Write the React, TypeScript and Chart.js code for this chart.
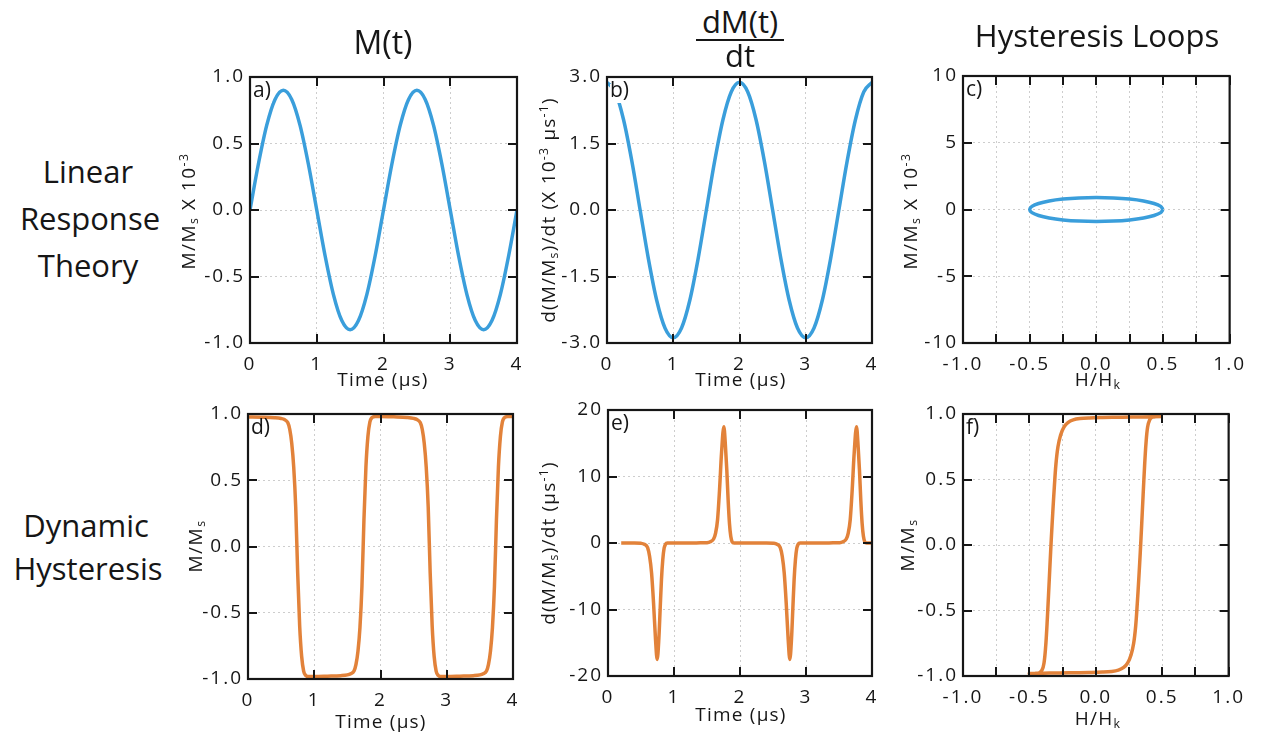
import React, { useEffect, useRef } from 'react';
import { Chart, registerables } from 'chart.js';

Chart.register(...registerables);

const FONT = '"Open Sans", "Noto Sans", sans-serif';
const TXT = '#161616';
const BLUE = '#3a9edb';
const ORANGE = '#e2823a';

// ---------- tick values & labels ----------
const TIME_TICKS = [0, 1, 2, 3, 4];
const TIME_LABELS = ['0', '1', '2', '3', '4'];
const UNIT_TICKS = [-1, -0.5, 0, 0.5, 1];
const UNIT_LABELS = ['-1.0', '-0.5', '0.0', '0.5', '1.0'];
const RATE_B_TICKS = [-3, -1.5, 0, 1.5, 3];
const RATE_B_LABELS = ['-3.0', '-1.5', '0.0', '1.5', '3.0'];
const MAG_C_TICKS = [-10, -5, 0, 5, 10];
const MAG_C_LABELS = ['-10', '-5', '0', '5', '10'];
const RATE_E_TICKS = [-20, -10, 0, 10, 20];
const RATE_E_LABELS = ['-20', '-10', '0', '10', '20'];
const FIELD_TICKS = [-1, -0.75, -0.5, -0.25, 0, 0.25, 0.5, 0.75, 1];
const FIELD_LABELS = ['-1.0', '', '-0.5', '', '0.0', '', '0.5', '', '1.0'];

// ---------- a) linear response M(t) ----------
const timeA = [0, 0.125, 0.25, 0.375, 0.5, 0.625, 0.75, 0.875, 1, 1.125, 1.25, 1.375, 1.5, 1.625, 1.75, 1.875, 2,
  2.125, 2.25, 2.375, 2.5, 2.625, 2.75, 2.875, 3, 3.125, 3.25, 3.375, 3.5, 3.625, 3.75, 3.875, 4];
const magA = [0, 0.344, 0.636, 0.831, 0.9, 0.831, 0.636, 0.344, 0, -0.344, -0.636, -0.831, -0.9, -0.831, -0.636, -0.344, 0,
  0.344, 0.636, 0.831, 0.9, 0.831, 0.636, 0.344, 0, -0.344, -0.636, -0.831, -0.9, -0.831, -0.636, -0.344, 0];

// ---------- b) linear response dM/dt ----------
const timeB = [0, 0.125, 0.25, 0.375, 0.5, 0.625, 0.75, 0.875, 1, 1.125, 1.25, 1.375, 1.5, 1.625, 1.75, 1.875, 2,
  2.125, 2.25, 2.375, 2.5, 2.625, 2.75, 2.875, 3, 3.125, 3.25, 3.375, 3.5, 3.625, 3.75, 3.875, 4];
const rateB = [2.88, 2.661, 2.036, 1.102, 0, -1.102, -2.036, -2.661, -2.88, -2.661, -2.036, -1.102, 0, 1.102, 2.036, 2.661, 2.88,
  2.661, 2.036, 1.102, 0, -1.102, -2.036, -2.661, -2.88, -2.661, -2.036, -1.102, 0, 1.102, 2.036, 2.661, 2.88];

// ---------- c) linear response loop ----------
const fieldC = [0.5, 0.483, 0.433, 0.354, 0.25, 0.129, 0, -0.129, -0.25, -0.354, -0.433, -0.483, -0.5,
  -0.483, -0.433, -0.354, -0.25, -0.129, 0, 0.129, 0.25, 0.354, 0.433, 0.483, 0.5];
const magC = [0, 0.233, 0.45, 0.636, 0.779, 0.869, 0.9, 0.869, 0.779, 0.636, 0.45, 0.233, 0,
  -0.233, -0.45, -0.636, -0.779, -0.869, -0.9, -0.869, -0.779, -0.636, -0.45, -0.233, 0];

// ---------- d) dynamic hysteresis M(t) ----------
const timeD = [0, 0.2, 0.4, 0.5, 0.55, 0.6, 0.63, 0.66, 0.69, 0.72, 0.75, 0.78, 0.81, 0.84, 0.87, 0.92,
  1.0, 1.2, 1.4, 1.5, 1.55, 1.6, 1.63, 1.66, 1.69, 1.72, 1.75, 1.78, 1.81, 1.84, 1.87, 1.92,
  2.0, 2.2, 2.4, 2.5, 2.55, 2.6, 2.63, 2.66, 2.69, 2.72, 2.75, 2.78, 2.81, 2.84, 2.87, 2.92,
  3.0, 3.2, 3.4, 3.5, 3.55, 3.6, 3.63, 3.66, 3.69, 3.72, 3.75, 3.78, 3.81, 3.84, 3.87, 3.92, 4.0];
const magD = [0.978, 0.976, 0.972, 0.966, 0.958, 0.935, 0.885, 0.78, 0.6, 0.3, -0.2, -0.6, -0.83, -0.94, -0.972, -0.982,
  -0.982, -0.979, -0.975, -0.969, -0.96, -0.94, -0.89, -0.79, -0.61, -0.3, 0.2, 0.6, 0.83, 0.94, 0.972, 0.982,
  0.982, 0.979, 0.974, 0.967, 0.958, 0.935, 0.885, 0.78, 0.6, 0.3, -0.2, -0.6, -0.83, -0.94, -0.972, -0.982,
  -0.982, -0.979, -0.975, -0.969, -0.96, -0.94, -0.89, -0.79, -0.61, -0.3, 0.2, 0.6, 0.83, 0.94, 0.972, 0.982, 0.982];

// ---------- e) dynamic hysteresis dM/dt ----------
const timeE = [0.2, 0.4, 0.5, 0.55, 0.6, 0.63, 0.66, 0.69, 0.72, 0.745, 0.77, 0.79, 0.81, 0.83, 0.85, 0.87, 0.9,
  1.2, 1.4, 1.5, 1.55, 1.6, 1.63, 1.66, 1.69, 1.72, 1.755, 1.78, 1.8, 1.82, 1.84, 1.86, 1.88, 1.91,
  2.2, 2.4, 2.51, 2.56, 2.61, 2.64, 2.67, 2.7, 2.73, 2.755, 2.78, 2.8, 2.82, 2.84, 2.86, 2.88, 2.91,
  3.2, 3.41, 3.51, 3.56, 3.61, 3.64, 3.67, 3.7, 3.73, 3.765, 3.79, 3.81, 3.83, 3.85, 3.87, 3.89, 3.92, 4.0];
const rateE = [0, 0, -0.05, -0.2, -0.7, -2, -4.5, -9, -14.5, -17.5, -14.5, -10, -5.5, -2.5, -0.8, -0.2, 0,
  0, 0.02, 0.05, 0.2, 0.6, 1.5, 3.5, 8, 13.5, 17.5, 14.5, 11, 6.5, 3, 1, 0.2, 0,
  0, 0, -0.05, -0.2, -0.7, -2, -4.5, -9, -14.5, -17.5, -14.5, -10, -5.5, -2.5, -0.8, -0.2, 0,
  0, 0.02, 0.05, 0.2, 0.6, 1.5, 3.5, 8, 13.5, 17.5, 14.5, 11, 6.5, 3, 1, 0.2, 0, 0];

// ---------- f) dynamic hysteresis loop ----------
const fieldF = [0.5, 0.35, 0.2, 0.05, -0.05, -0.12, -0.17, -0.21, -0.24, -0.265, -0.285, -0.3, -0.312, -0.324, -0.335,
  -0.345, -0.356, -0.367, -0.378, -0.39, -0.405, -0.425, -0.46, -0.5,
  -0.35, -0.2, -0.05, 0.05, 0.12, 0.17, 0.21, 0.24, 0.265, 0.285, 0.3, 0.312, 0.324, 0.335,
  0.345, 0.356, 0.367, 0.378, 0.39, 0.405, 0.425, 0.46, 0.5];
const magF = [0.98, 0.978, 0.976, 0.973, 0.97, 0.965, 0.955, 0.935, 0.9, 0.84, 0.75, 0.62, 0.45, 0.25, 0.05,
  -0.15, -0.38, -0.6, -0.78, -0.9, -0.955, -0.975, -0.98, -0.98,
  -0.978, -0.976, -0.973, -0.97, -0.965, -0.955, -0.935, -0.9, -0.84, -0.75, -0.62, -0.45, -0.25, -0.05,
  0.15, 0.38, 0.6, 0.78, 0.9, 0.955, 0.975, 0.98, 0.98];

// ---------- layout ----------
const PAD_L = 70;
const PAD_T = 20;
const PAD_R = 25;
const PAD_B = 40;
const TICK_SPACING = '2px';

type PanelDef = {
  label: string;
  rect: [number, number, number, number];
  xTicks: number[];
  xLabels: string[];
  yTicks: number[];
  yLabels: string[];
  xs: number[];
  ys: number[];
  color: string;
  mono: boolean;
};

const PANELS: PanelDef[] = [
  { label: 'a)', rect: [250, 77, 517, 343], xTicks: TIME_TICKS, xLabels: TIME_LABELS, yTicks: UNIT_TICKS, yLabels: UNIT_LABELS, xs: timeA, ys: magA, color: BLUE, mono: true },
  { label: 'b)', rect: [607, 77, 872, 343], xTicks: TIME_TICKS, xLabels: TIME_LABELS, yTicks: RATE_B_TICKS, yLabels: RATE_B_LABELS, xs: timeB, ys: rateB, color: BLUE, mono: true },
  { label: 'c)', rect: [963, 76, 1231, 343], xTicks: FIELD_TICKS, xLabels: FIELD_LABELS, yTicks: MAG_C_TICKS, yLabels: MAG_C_LABELS, xs: fieldC, ys: magC, color: BLUE, mono: false },
  { label: 'd)', rect: [248, 414, 513, 679], xTicks: TIME_TICKS, xLabels: TIME_LABELS, yTicks: UNIT_TICKS, yLabels: UNIT_LABELS, xs: timeD, ys: magD, color: ORANGE, mono: true },
  { label: 'e)', rect: [608, 410, 872, 676], xTicks: TIME_TICKS, xLabels: TIME_LABELS, yTicks: RATE_E_TICKS, yLabels: RATE_E_LABELS, xs: timeE, ys: rateE, color: ORANGE, mono: true },
  { label: 'f)', rect: [963, 414, 1230, 676], xTicks: FIELD_TICKS, xLabels: FIELD_LABELS, yTicks: UNIT_TICKS, yLabels: UNIT_LABELS, xs: fieldF, ys: magF, color: ORANGE, mono: false },
];

const spacingPlugin = {
  id: 'tickSpacing',
  beforeUpdate(chart: any) {
    chart.ctx.letterSpacing = TICK_SPACING;
  },
  beforeDraw(chart: any) {
    chart.ctx.letterSpacing = TICK_SPACING;
  },
};

const framePlugin = {
  id: 'panelFrame',
  afterDatasetsDraw(chart: any, _args: any, opts: any) {
    const { ctx, chartArea } = chart;
    const { left, top, right, bottom } = chartArea;
    const xs = chart.scales.x;
    const ys = chart.scales.y;
    ctx.save();
    ctx.letterSpacing = '0px';
    // panel letter on white box
    ctx.font = `21px ${FONT}`;
    const w = ctx.measureText(opts.label).width;
    ctx.fillStyle = '#ffffff';
    ctx.fillRect(left + 3, top + 7, w + 1, 19);
    ctx.fillStyle = TXT;
    ctx.textBaseline = 'top';
    ctx.textAlign = 'left';
    ctx.fillText(opts.label, left + 3, top + 4);
    // inward tick marks
    ctx.strokeStyle = TXT;
    ctx.lineWidth = 2;
    ctx.beginPath();
    xs.ticks.forEach((t: any) => {
      const px = Math.round(xs.getPixelForValue(t.value));
      ctx.moveTo(px, bottom);
      ctx.lineTo(px, bottom - 9);
      ctx.moveTo(px, top);
      ctx.lineTo(px, top + 9);
    });
    ys.ticks.forEach((t: any) => {
      const py = Math.round(ys.getPixelForValue(t.value));
      ctx.moveTo(left, py);
      ctx.lineTo(left + 9, py);
      ctx.moveTo(right, py);
      ctx.lineTo(right - 9, py);
    });
    ctx.stroke();
    ctx.lineWidth = 2.2;
    ctx.strokeRect(left, top, right - left, bottom - top);
    ctx.restore();
  },
};

function axis(ticks: number[], labels: string[], isX: boolean) {
  return {
    type: 'linear',
    min: ticks[0],
    max: ticks[ticks.length - 1],
    afterBuildTicks: (s: any) => {
      s.ticks = ticks.map((v) => ({ value: v }));
    },
    afterFit: (s: any) => {
      if (isX) s.height = PAD_B;
      else s.width = PAD_L;
    },
    ticks: {
      callback: (_v: any, i: number) => labels[i],
      font: { family: FONT, size: 19 },
      color: TXT,
      padding: isX ? 10 : 5,
      maxRotation: 0,
      minRotation: 0,
      autoSkip: false,
    },
    grid: { color: '#cdcdcd', lineWidth: 1, drawTicks: false },
    border: { display: false, dash: [2, 3] },
  };
}

function Panel({ p }: { p: PanelDef }) {
  const ref = useRef<HTMLCanvasElement | null>(null);
  const [L, T, R, B] = p.rect;
  const w = R - L + PAD_L + PAD_R;
  const h = B - T + PAD_T + PAD_B;
  useEffect(() => {
    const chart = new Chart(ref.current as HTMLCanvasElement, {
      type: 'scatter',
      data: {
        datasets: [
          {
            data: p.xs.map((x, i) => ({ x, y: p.ys[i] })),
            showLine: true,
            borderColor: p.color,
            borderWidth: 3.5,
            pointRadius: 0,
            fill: false,
            tension: p.mono ? 0 : 0.35,
            cubicInterpolationMode: p.mono ? 'monotone' : 'default',
          } as any,
        ],
      },
      options: {
        animation: false,
        responsive: false,
        devicePixelRatio: 1,
        layout: { padding: { left: 0, top: PAD_T, right: PAD_R, bottom: 0 } },
        plugins: {
          legend: { display: false },
          tooltip: { enabled: false },
          panelFrame: { label: p.label },
        } as any,
        scales: {
          x: axis(p.xTicks, p.xLabels, true) as any,
          y: axis(p.yTicks, p.yLabels, false) as any,
        },
      },
      plugins: [spacingPlugin as any, framePlugin as any],
    });
    return () => chart.destroy();
  }, [p]);
  return (
    <canvas
      ref={ref}
      width={w}
      height={h}
      style={{ position: 'absolute', left: L - PAD_L, top: T - PAD_T, width: w, height: h }}
    />
  );
}

const sub = { fontSize: '0.65em', lineHeight: 0, verticalAlign: '-0.25em' } as React.CSSProperties;
const sup = { fontSize: '0.65em', lineHeight: 0, verticalAlign: '0.55em' } as React.CSSProperties;

function Txt({ x, y, size, children, rotate, spacing }: { x: number; y: number; size: number; children: React.ReactNode; rotate?: boolean; spacing?: number }) {
  return (
    <div
      style={{
        position: 'absolute',
        left: x,
        top: y,
        transform: rotate ? 'translate(-50%, -50%) rotate(-90deg)' : 'translateX(-50%)',
        font: `${size}px ${FONT}`,
        lineHeight: `${size}px`,
        letterSpacing: spacing ? `${spacing}px` : undefined,
        whiteSpace: 'nowrap',
        color: TXT,
      }}
    >
      {children}
    </div>
  );
}

const MMs = (
  <>
    M/M<span style={sub}>s</span>
  </>
);

export default function App() {
  return (
    <div style={{ position: 'absolute', left: 0, top: 0, width: 1261, height: 740, background: '#fff', overflow: 'hidden' }}>
      {PANELS.map((p) => (
        <Panel key={p.label} p={p} />
      ))}

      {/* column titles */}
      <Txt x={383} y={26} size={32}>M(t)</Txt>
      <Txt x={740} y={5.5} size={31}>dM(t)</Txt>
      <div style={{ position: 'absolute', left: 696, top: 39, width: 88, height: 2, background: TXT }} />
      <Txt x={740} y={39.5} size={31}>dt</Txt>
      <Txt x={1097} y={19.5} size={31}>Hysteresis Loops</Txt>

      {/* row titles */}
      <Txt x={88} y={155.5} size={31}>Linear</Txt>
      <Txt x={90} y={202.5} size={31}>Response</Txt>
      <Txt x={88} y={249.5} size={31}>Theory</Txt>
      <Txt x={86} y={509.5} size={31}>Dynamic</Txt>
      <Txt x={88} y={552.5} size={31}>Hysteresis</Txt>

      {/* x-axis titles */}
      <Txt x={383} y={369.5} size={19} spacing={1.2}>Time (µs)</Txt>
      <Txt x={741} y={369.5} size={19} spacing={1.2}>Time (µs)</Txt>
      <Txt x={1098} y={369.5} size={19} spacing={1.2}>H/H<span style={sub}>k</span></Txt>
      <Txt x={381} y={711.5} size={19} spacing={1.2}>Time (µs)</Txt>
      <Txt x={741} y={704.5} size={19} spacing={1.2}>Time (µs)</Txt>
      <Txt x={1098} y={708.5} size={19} spacing={1.2}>H/H<span style={sub}>k</span></Txt>

      {/* y-axis titles */}
      <Txt x={188} y={211} size={19} spacing={1.5} rotate>
        {MMs} X 10<span style={sup}>-3</span>
      </Txt>
      <Txt x={548} y={210} size={19} spacing={1.2} rotate>
        d({MMs})/dt (X 10<span style={sup}>-3</span> µs<span style={sup}>-1</span>)
      </Txt>
      <Txt x={910} y={211} size={19} spacing={1.5} rotate>
        {MMs} X 10<span style={sup}>-3</span>
      </Txt>
      <Txt x={195} y={546} size={19} spacing={1.5} rotate>
        {MMs}
      </Txt>
      <Txt x={548} y={543} size={19} spacing={1.2} rotate>
        d({MMs})/dt (µs<span style={sup}>-1</span>)
      </Txt>
      <Txt x={907} y={545} size={19} spacing={1.5} rotate>
        {MMs}
      </Txt>
    </div>
  );
}
